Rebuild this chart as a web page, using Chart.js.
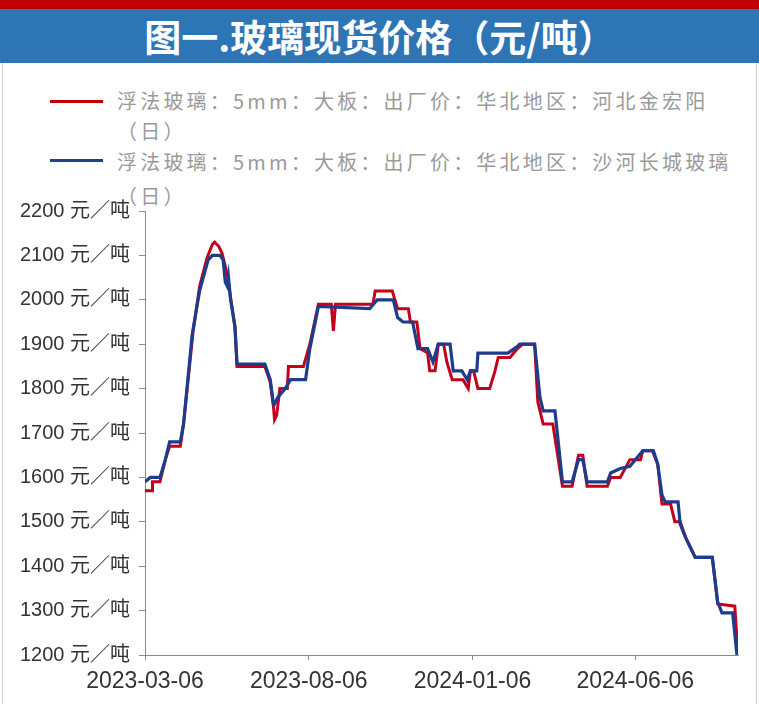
<!DOCTYPE html>
<html>
<head>
<meta charset="utf-8">
<script src="https://cdn.jsdelivr.net/npm/chart.js@4/dist/chart.umd.min.js"></script>
<style>
  body { margin: 0; width: 759px; height: 704px; overflow: hidden; background: #fff; font-family: "Noto Sans CJK SC", sans-serif; }
  #topband { position: absolute; left: 0; top: 0; width: 759px; height: 9px; background: #c00000; }
  #title { position: absolute; left: 0; top: 9px; width: 759px; height: 54px; background: #2e75b6; color: #fff;
           font-weight: bold; font-size: 37px; line-height: 54px; text-align: center; }
  #frame { position: absolute; left: 2px; top: 63px; width: 753px; height: 641px; border-left: 1px solid #d0d0d0; border-right: 1px solid #d0d0d0; }
  .leg { position: absolute; left: 117px; color: #9a9a9a; font-size: 20px; line-height: 30px; letter-spacing: 3.2px; white-space: nowrap; }
  .swatch { position: absolute; left: 50px; width: 53px; height: 3px; }
  #wrap { position: absolute; left: 0; top: 190px; width: 759px; height: 514px; }
</style>
</head>
<body>
<div id="topband"></div>
<div id="title">图一.玻璃现货价格（元/吨）</div>
<div id="frame"></div>
<div class="swatch" style="top:100px;background:#c00000"></div>
<div class="leg" style="top:86px">浮法玻璃：5mm：大板：出厂价：华北地区：河北金宏阳<br>（日）</div>
<div class="swatch" style="top:159px;background:#1f3f8f"></div>
<div class="leg" style="top:145px;line-height:34px">浮法玻璃：5mm：大板：出厂价：华北地区：沙河长城玻璃<br>（日）</div>
<div id="wrap"><canvas id="c" width="759" height="514"></canvas></div>
<script>
// days since 2023-03-06
const tickDays = [0, 153, 306, 458];
const tickLabels = ['2023-03-06', '2023-08-06', '2024-01-06', '2024-06-06'];

const redDays = [0, 7, 7, 14, 19, 23, 33, 36, 45, 51, 58, 63, 65, 69, 72, 77, 79, 84, 86, 112,
  117, 120, 121, 123, 126, 133, 134, 148, 154, 162, 174, 176, 178, 213, 215, 231, 236, 246, 248, 254,
  257, 264, 266, 271, 274, 279, 282, 287, 297, 302, 304, 307, 311, 322, 327, 330, 341, 348, 353, 364,
  367, 372, 381, 390, 399, 405, 409, 413, 432, 435, 444, 453, 463, 465, 474, 479, 483, 491, 495, 500,
  505, 509, 514, 530, 535, 551, 554];
const redVals = [1570, 1570, 1590, 1590, 1640, 1670, 1670, 1720, 1930, 2030, 2095, 2125, 2130, 2120, 2105, 2055, 2020, 1940, 1850, 1850,
  1815, 1760, 1730, 1740, 1800, 1800, 1850, 1850, 1900, 1990, 1990, 1930, 1990, 1990, 2020, 2020, 1980, 1980, 1950, 1950,
  1890, 1880, 1840, 1840, 1900, 1900, 1860, 1820, 1820, 1800, 1840, 1840, 1800, 1800, 1840, 1870, 1870, 1890, 1900, 1900,
  1770, 1720, 1720, 1580, 1580, 1650, 1650, 1580, 1580, 1600, 1600, 1640, 1640, 1660, 1660, 1630, 1540, 1540, 1500, 1500,
  1465, 1445, 1420, 1420, 1315, 1310, 1200];

const blueDays = [0, 5, 14, 19, 23, 33, 36, 44, 51, 59, 63, 70, 73, 75, 77, 78, 80, 84, 86, 112,
  117, 120, 121, 124, 131, 136, 150, 154, 162, 210, 217, 232, 236, 241, 250, 255, 264, 269, 274, 285,
  288, 296, 301, 304, 310, 311, 339, 348, 350, 364, 369, 372, 383, 390, 399, 405, 409, 413, 432, 435,
  444, 453, 465, 475, 479, 483, 486, 498, 500, 505, 509, 514, 530, 535, 539, 549, 553];
const blueVals = [1590, 1600, 1600, 1640, 1680, 1680, 1720, 1920, 2020, 2090, 2100, 2100, 2090, 2040, 2030, 2050, 2000, 1940, 1855, 1855,
  1820, 1765, 1765, 1780, 1800, 1820, 1820, 1890, 1985, 1980, 2000, 2000, 1960, 1950, 1950, 1890, 1890, 1860, 1900, 1900,
  1840, 1840, 1820, 1840, 1840, 1880, 1880, 1895, 1900, 1900, 1780, 1750, 1750, 1590, 1590, 1640, 1640, 1590, 1590, 1610,
  1620, 1625, 1660, 1660, 1630, 1560, 1545, 1545, 1495, 1465, 1445, 1420, 1420, 1320, 1295, 1295, 1200];

const toPoints = (days, vals) => days.map((d, i) => ({ x: d, y: vals[i] }));

const axisColor = '#8a8a8a';
new Chart(document.getElementById('c'), {
  type: 'line',
  data: {
    datasets: [
      { data: toPoints(redDays, redVals), borderColor: '#c4001a', borderWidth: 3, order: 2 },
      { data: toPoints(blueDays, blueVals), borderColor: '#1c3c8c', borderWidth: 3.2, order: 1 }
    ]
  },
  options: {
    responsive: false,
    animation: false,
    layout: { padding: { top: 21, right: 21 } },
    elements: { point: { radius: 0 }, line: { tension: 0 } },
    plugins: { legend: { display: false }, tooltip: { enabled: false } },
    scales: {
      x: {
        type: 'linear', min: 0, max: 554,
        afterBuildTicks: axis => { axis.ticks = tickDays.map(v => ({ value: v })); },
        afterFit: scale => { scale.height = 49; },
        ticks: { callback: (v, i) => tickLabels[i], autoSkip: false, maxRotation: 0, padding: 8,
                 color: '#333', font: { family: 'Liberation Sans', size: 23 } },
        grid: { drawOnChartArea: false, tickLength: 5, color: axisColor },
        border: { color: axisColor }
      },
      y: {
        min: 1200, max: 2200,
        afterFit: scale => { scale.width = 145; },
        ticks: { stepSize: 100, callback: v => v + ' 元／吨', padding: 9,
                 color: '#333', font: { family: "'Liberation Sans', 'Noto Sans CJK SC'", size: 20 } },
        grid: { drawOnChartArea: false, tickLength: 6, color: axisColor },
        border: { color: axisColor }
      }
    }
  }
});
</script>
</body>
</html>
